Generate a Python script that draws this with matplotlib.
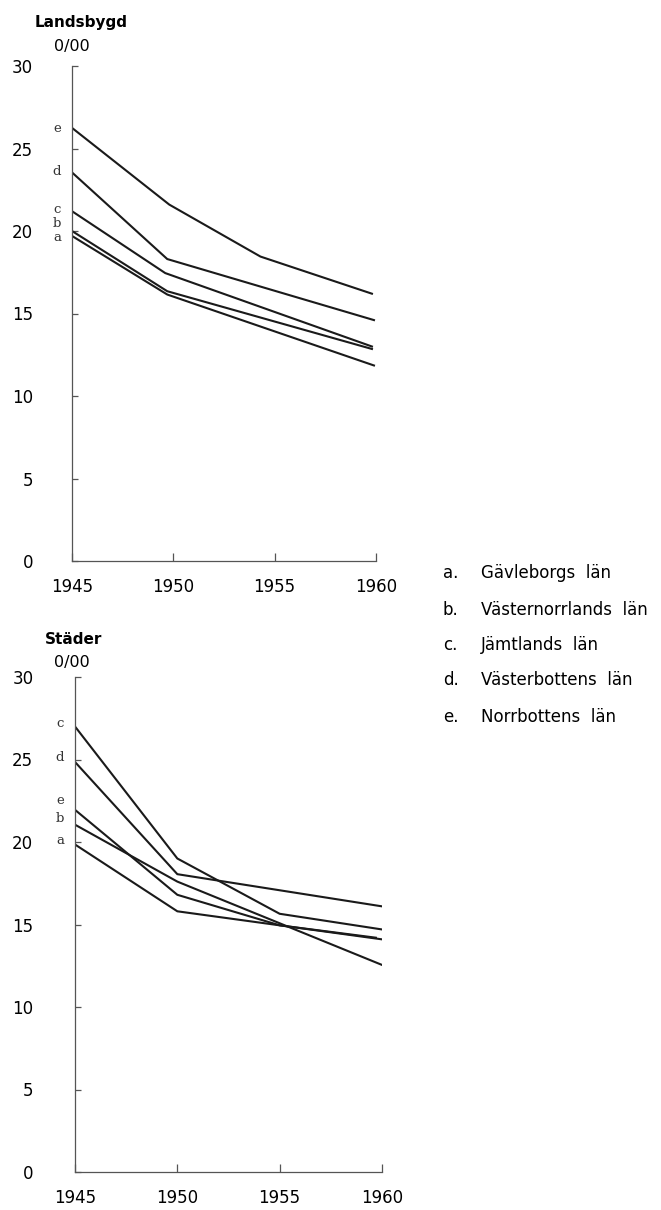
import numpy as np
import matplotlib
matplotlib.use('Agg')
import matplotlib.pyplot as plt

plt.rcParams['font.family'] = ['DejaVu Sans']

# Landsbygd (rural areas), per mille
land_years = {
    'a': [1945, 1949.7, 1959.9],
    'b': [1945, 1949.7, 1959.8],
    'c': [1945, 1949.6, 1959.8],
    'd': [1945, 1949.7, 1959.9],
    'e': [1945, 1949.8, 1954.3, 1959.8],
}
land_vals = {
    'a': [19.7, 16.15, 11.85],
    'b': [20.0, 16.35, 12.85],
    'c': [21.2, 17.45, 13.0],
    'd': [23.55, 18.3, 14.6],
    'e': [26.25, 21.6, 18.45, 16.2],
}
land_letter_y = {'e': 26.2, 'd': 23.6, 'c': 21.3, 'b': 20.45, 'a': 19.6}

# Städer (towns)
town_years = {
    'a': [1945, 1950, 1955, 1959.7],
    'b': [1945, 1950, 1960],
    'c': [1945, 1950, 1955, 1960],
    'd': [1945, 1950, 1960],
    'e': [1945, 1950, 1955, 1960],
}
town_vals = {
    'a': [19.85, 15.8, 14.95, 14.2],
    'b': [21.05, 17.6, 12.55],
    'c': [27.0, 19.0, 15.65, 14.7],
    'd': [24.85, 18.05, 16.1],
    'e': [21.95, 16.8, 14.95, 14.1],
}
town_letter_y = {'c': 27.2, 'd': 25.1, 'e': 22.5, 'b': 21.4, 'a': 20.1}

legend_letters = ['a.', 'b.', 'c.', 'd.', 'e.']
legend_names = ['Gävleborgs  län', 'Västernorrlands  län', 'Jämtlands  län',
                'Västerbottens  län', 'Norrbottens  län']

xticks = [1945, 1950, 1955, 1960]
yticks = [0, 5, 10, 15, 20, 25, 30]

W, H = 661, 1210
fig = plt.figure(figsize=(W / 100, H / 100), dpi=100)

ax1 = fig.add_axes([72 / W, 1 - 561 / H, 304 / W, 495 / H])
ax2 = fig.add_axes([75 / W, 1 - 1172 / H, 307 / W, 495 / H])

lc = '#1a1a1a'
for ax, yrs, vals, lety, ypad in [(ax1, land_years, land_vals, land_letter_y, 28),
                                  (ax2, town_years, town_vals, town_letter_y, 30)]:
    for k in ['a', 'b', 'c', 'd', 'e']:
        ax.plot(yrs[k], vals[k], color=lc, lw=1.5, solid_joinstyle='miter')
        ax.annotate(k, xy=(1945, lety[k]), xytext=(-15, 0), textcoords='offset pixels',
                    ha='center', va='center', fontsize=9.5, family='DejaVu Serif', color='#333333')
    ax.set_xlim(1945, 1960)
    ax.set_ylim(0, 30)
    ax.set_xticks(xticks)
    ax.set_yticks(yticks)
    ax.spines['top'].set_visible(False)
    ax.spines['right'].set_visible(False)
    for s in ['left', 'bottom']:
        ax.spines[s].set_color('#555555')
        ax.spines[s].set_linewidth(0.9)
    ax.tick_params(axis='y', direction='in', length=4, width=0.9, color='#555555',
                   pad=ypad, labelsize=12)
    ax.tick_params(axis='x', direction='in', length=6, width=0.9, color='#555555',
                   pad=12, labelsize=12)
    ax.patch.set_alpha(0)

# titles above the axes
fig.text(81 / W, 1 - 22 / H, 'Landsbygd', ha='center', va='center', fontsize=11, fontweight='bold')
fig.text(72 / W, 1 - 46 / H, '0/00', ha='center', va='center', fontsize=11.5)
fig.text(74 / W, 1 - 640 / H, 'Städer', ha='center', va='center', fontsize=11, fontweight='bold')
fig.text(72 / W, 1 - 663 / H, '0/00', ha='center', va='center', fontsize=11.5)

# legend at the right
leg_y = [573, 610, 645, 680, 717]
for i in range(len(legend_letters)):
    fig.text(443 / W, 1 - leg_y[i] / H, legend_letters[i], ha='left', va='center', fontsize=12)
    fig.text(481 / W, 1 - leg_y[i] / H, legend_names[i], ha='left', va='center', fontsize=12)

plt.savefig('out.png', dpi=100)
